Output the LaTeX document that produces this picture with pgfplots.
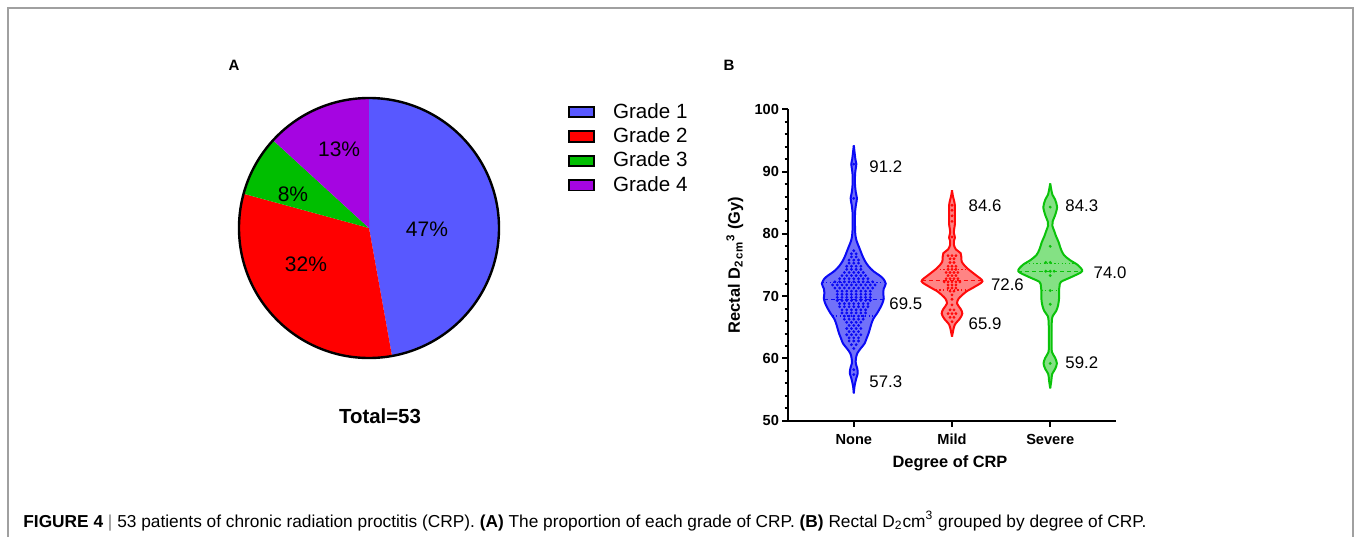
\documentclass[border=0pt]{standalone}
\usepackage{fontspec}
\setmainfont{Liberation Sans}
\usepackage{pgfplots}
\pgfplotsset{compat=1.18}
\usepackage{pgfplotstable}

\definecolor{gOne}{RGB}{88,88,255}
\definecolor{gTwo}{RGB}{255,0,0}
\definecolor{gThree}{RGB}{0,190,0}
\definecolor{gFour}{RGB}{165,5,225}
\definecolor{cNone}{RGB}{10,10,245}
\definecolor{cMild}{RGB}{255,10,10}
\definecolor{cSev}{RGB}{10,195,10}
\definecolor{frame}{RGB}{160,160,160}
\tikzset{ann/.style={anchor=west, inner sep=0pt, font=\fontsize{8.4}{9}\selectfont}}

\pgfplotstableread{
grade count
1 25
2 17
3 4
4 7
}\pietable

\pgfplotstableread{
y w
54.4 0
55.6 0.008
56.8 0.025
57.6 0.04
58.4 0.035
59.2 0.02
60.0 0.022
60.8 0.035
61.6 0.07
62.4 0.11
63.2 0.13
64.0 0.15
64.8 0.165
65.6 0.18
66.4 0.2
67.2 0.235
68.0 0.265
68.8 0.29
69.6 0.305
70.4 0.3
71.2 0.305
72.0 0.325
72.8 0.3
73.4 0.255
74.0 0.2
74.8 0.15
75.6 0.115
76.4 0.09
77.2 0.07
78.0 0.05
78.8 0.03
79.6 0.018
80.6 0.013
82.0 0.012
83.5 0.013
84.7 0.022
85.7 0.032
86.7 0.02
88.0 0.012
89.6 0.013
90.5 0.02
91.2 0.026
92.0 0.016
93.2 0.007
94.2 0
}\vNone

\pgfplotstableread{
y w
63.5 0
64.3 0.01
65.4 0.028
66.4 0.08
67.2 0.105
67.9 0.09
68.8 0.052
69.6 0.068
70.7 0.143
71.5 0.23
72.4 0.31
73.4 0.24
74.5 0.153
75.5 0.1
76.3 0.095
76.9 0.088
77.5 0.04
78.2 0.02
78.8 0.018
79.4 0.03
80.2 0.018
80.8 0.022
81.5 0.029
83.0 0.03
84.6 0.029
85.4 0.02
86.0 0.01
87.0 0
}\vMild

\pgfplotstableread{
y w
55.2 0
56.5 0.012
57.5 0.02
58.3 0.05
59.2 0.068
60.1 0.05
61.0 0.018
62.0 0.014
64.0 0.014
65.9 0.016
66.8 0.025
67.6 0.06
68.5 0.08
69.6 0.09
70.8 0.09
71.6 0.095
72.3 0.11
73.1 0.22
74.0 0.325
75.0 0.28
75.8 0.2
76.6 0.14
77.5 0.11
78.7 0.085
79.6 0.06
80.5 0.04
81.3 0.022
82.0 0.025
83.0 0.05
84.3 0.07
85.5 0.05
86.3 0.022
87.0 0.012
88.1 0
}\vSev

\begin{document}
\begin{tikzpicture}
\path[use as bounding box] (0pt,0pt) rectangle (678pt,268.5pt);
\begin{scope}[x=0.5pt,y=0.5pt]
\draw[line width=0.75pt, frame] (8,0) -- (8,529) -- (1353,529) -- (1353,0);
\node[font=\fontsize{7.5}{8}\selectfont\bfseries] at (234,471.7) {A};
\node[font=\fontsize{7.5}{8}\selectfont\bfseries] at (729,471.7) {B};
\node[font=\fontsize{10.2}{11}\selectfont\bfseries] at (380,120.3) {Total=53};
\node[anchor=west, inner sep=0pt, font=\fontsize{8.65}{10}\selectfont] at (23,16)
 {\textbf{FIGURE 4} {\color{gray}|} 53 patients of chronic radiation proctitis (CRP). \textbf{(A)} The proportion of each grade of CRP. \textbf{(B)} Rectal D\textsubscript{2}cm\textsuperscript{3} grouped by degree of CRP.};
\end{scope}

% ---------- Panel A ----------
\begin{axis}[at={(184.5pt,154.5pt)}, anchor=center, scale only axis,
  width=130pt, height=130pt, xmin=-1, xmax=1, ymin=-1, ymax=1,
  hide axis, clip=false,
  legend image code/.code={\draw[#1,draw=black,line width=0.9pt] (0pt,-2.6pt) rectangle (12.5pt,2.6pt);},
  legend style={at={(1.265,0.982)}, anchor=north west, draw=none, fill=none,
    inner sep=0pt, font=\fontsize{10.3}{12}\selectfont, row sep=3.25pt,
    nodes={inner sep=0pt},
    /tikz/every odd column/.append style={column sep=9pt}},
  legend cell align=left]
\addlegendimage{fill=gOne}
\addlegendimage{fill=gTwo}
\addlegendimage{fill=gThree}
\addlegendimage{fill=gFour}
\legend{Grade 1,Grade 2,Grade 3,Grade 4}
\pgfplotsextra{%
  \gdef\curang{90}%
  \foreach \i/\col in {0/gOne,1/gTwo,2/gThree,3/gFour}{%
    \pgfplotstablegetelem{\i}{count}\of\pietable
    \pgfmathsetmacro\slice{\pgfplotsretval/53*360}%
    \pgfmathsetmacro\nextang{\curang-\slice}%
    \fill[\col] (axis cs:0,0) -- ++(\curang:65pt) arc[start angle=\curang, end angle=\nextang, radius=65pt] -- cycle;
    \xdef\curang{\nextang}%
  }%
  \draw[line width=1.2pt] (axis cs:0,0) circle[radius=65pt];
}
\node[font=\fontsize{10.5}{12}\selectfont] at (axis cs:0.446,-0.01) {47\%};
\node[font=\fontsize{10.5}{12}\selectfont] at (axis cs:-0.485,-0.277) {32\%};
\node[font=\fontsize{10.5}{12}\selectfont] at (axis cs:-0.585,0.26) {8\%};
\node[font=\fontsize{10.5}{12}\selectfont] at (axis cs:-0.23,0.608) {13\%};
\end{axis}

% ---------- Panel B ----------
\begin{axis}[at={(394pt,58.15pt)}, anchor=south west, scale only axis,
  width=164pt, height=155.7pt,
  xmin=-0.67, xmax=2.67, ymin=50, ymax=100,
  axis x line*=bottom, axis y line*=left,
  axis line style={-, line width=1.15pt},
  xtick={0,1,2}, xticklabels={None,Mild,Severe},
  ytick={50,60,...,100}, minor y tick num=4,
  tick align=outside, major tick length=3pt, minor tick length=1.7pt,
  every tick/.style={black, line width=1pt},
  tick label style={font=\fontsize{7.3}{8}\selectfont\bfseries},
  xticklabel style={text height=5.3pt, text depth=0pt},
  yticklabel style={xshift=2pt},
  /pgf/number format/assume math mode=true,
  xlabel={Degree of CRP},
  ylabel={Rectal D\textsubscript{2\,cm}\textsuperscript{3} (Gy)},
  label style={font=\fontsize{8.2}{9}\selectfont\bfseries},
  xlabel style={at={(axis description cs:0.494,-0.136)}, anchor=center},
  ylabel style={at={(axis description cs:-0.162,0.5)}, anchor=center},
  clip=false]
% violin fills (two halves each, closed along the centre line)
\addplot[fill=cNone!58, draw=cNone!58, line width=0.4pt, smooth] table[x expr=\thisrow{w}, y=y]{\vNone} -- cycle;
\addplot[fill=cNone!58, draw=cNone!58, line width=0.4pt, smooth] table[x expr=-\thisrow{w}, y=y]{\vNone} -- cycle;
\addplot[fill=cMild!50, draw=cMild!50, line width=0.4pt, smooth] table[x expr=1+\thisrow{w}, y=y]{\vMild} -- cycle;
\addplot[fill=cMild!50, draw=cMild!50, line width=0.4pt, smooth] table[x expr=1-\thisrow{w}, y=y]{\vMild} -- cycle;
\addplot[fill=cSev!50, draw=cSev!50, line width=0.4pt, smooth] table[x expr=2+\thisrow{w}, y=y]{\vSev} -- cycle;
\addplot[fill=cSev!50, draw=cSev!50, line width=0.4pt, smooth] table[x expr=2-\thisrow{w}, y=y]{\vSev} -- cycle;

% medians and quartiles
\addplot[cNone, line width=0.6pt, dash pattern=on 2pt off 1.5pt] coordinates {(-0.305,69.5) (0.305,69.5)};
\addplot[cNone, line width=0.6pt, dash pattern=on 0.6pt off 1.2pt] coordinates {(-0.215,66.8) (0.215,66.8)};
\addplot[cNone, line width=0.6pt, dash pattern=on 0.6pt off 1.2pt] coordinates {(-0.32,72.2) (0.32,72.2)};
\addplot[cMild, line width=0.6pt, dash pattern=on 2pt off 1.5pt] coordinates {(0.69,72.5) (1.31,72.5)};
\addplot[cMild, line width=0.6pt, dash pattern=on 0.6pt off 1.2pt] coordinates {(0.835,71.0) (1.165,71.0)};
\addplot[cMild, line width=0.6pt, dash pattern=on 0.6pt off 1.2pt] coordinates {(0.84,74.3) (1.16,74.3)};
\addplot[cSev, line width=0.6pt, dash pattern=on 2pt off 1.5pt] coordinates {(1.675,74.0) (2.325,74.0)};
\addplot[cSev, line width=0.6pt, dash pattern=on 0.6pt off 1.2pt] coordinates {(1.75,75.3) (2.25,75.3)};
\addplot[cSev, line width=0.6pt, dash pattern=on 0.6pt off 1.2pt] coordinates {(1.91,70.9) (2.09,70.9)};

% dots
\addplot[only marks, mark=*, mark size=0.5pt, cNone] coordinates {
(0,57.4) (0,58.2) (0,61.6)
(-0.024,62.2) (0.024,62.2)
(-0.048,62.8) (0,62.8) (0.048,62.8)
(-0.048,63.3) (0,63.3) (0.048,63.3)
(-0.072,63.8) (-0.024,63.8) (0.024,63.8) (0.072,63.8)
(-0.048,64.3) (0,64.3) (0.048,64.3)
(-0.072,64.8) (-0.024,64.8) (0.024,64.8) (0.072,64.8)
(-0.048,65.3) (0,65.3) (0.048,65.3)
(-0.072,65.8) (-0.024,65.8) (0.024,65.8) (0.072,65.8)
(-0.096,66.3) (-0.048,66.3) (0,66.3) (0.048,66.3) (0.096,66.3)
(-0.096,66.8) (-0.048,66.8) (0,66.8) (0.048,66.8) (0.096,66.8)
(-0.12,67.3) (-0.072,67.3) (-0.024,67.3) (0.024,67.3) (0.072,67.3) (0.12,67.3)
(-0.12,67.8) (-0.072,67.8) (-0.024,67.8) (0.024,67.8) (0.072,67.8) (0.12,67.8)
(-0.144,68.3) (-0.096,68.3) (-0.048,68.3) (0,68.3) (0.048,68.3) (0.096,68.3) (0.144,68.3)
(-0.144,68.8) (-0.096,68.8) (-0.048,68.8) (0,68.8) (0.048,68.8) (0.096,68.8) (0.144,68.8)
(-0.168,69.3) (-0.12,69.3) (-0.072,69.3) (-0.024,69.3) (0.024,69.3) (0.072,69.3) (0.12,69.3) (0.168,69.3)
(-0.168,69.8) (-0.12,69.8) (-0.072,69.8) (-0.024,69.8) (0.024,69.8) (0.072,69.8) (0.12,69.8) (0.168,69.8)
(-0.168,70.3) (-0.12,70.3) (-0.072,70.3) (-0.024,70.3) (0.024,70.3) (0.072,70.3) (0.12,70.3) (0.168,70.3)
(-0.168,70.8) (-0.12,70.8) (-0.072,70.8) (-0.024,70.8) (0.024,70.8) (0.072,70.8) (0.12,70.8) (0.168,70.8)
(-0.192,71.3) (-0.144,71.3) (-0.096,71.3) (-0.048,71.3) (0,71.3) (0.048,71.3) (0.096,71.3) (0.144,71.3) (0.192,71.3)
(-0.216,71.8) (-0.168,71.8) (-0.12,71.8) (-0.072,71.8) (-0.024,71.8) (0.024,71.8) (0.072,71.8) (0.12,71.8) (0.168,71.8) (0.216,71.8)
(-0.192,72.3) (-0.144,72.3) (-0.096,72.3) (-0.048,72.3) (0,72.3) (0.048,72.3) (0.096,72.3) (0.144,72.3) (0.192,72.3)
(-0.144,72.8) (-0.096,72.8) (-0.048,72.8) (0,72.8) (0.048,72.8) (0.096,72.8) (0.144,72.8)
(-0.12,73.3) (-0.072,73.3) (-0.024,73.3) (0.024,73.3) (0.072,73.3) (0.12,73.3)
(-0.096,73.8) (-0.048,73.8) (0,73.8) (0.048,73.8) (0.096,73.8)
(-0.072,74.3) (-0.024,74.3) (0.024,74.3) (0.072,74.3)
(-0.072,74.8) (-0.024,74.8) (0.024,74.8) (0.072,74.8)
(-0.048,75.3) (0,75.3) (0.048,75.3)
(-0.048,75.8) (0,75.8) (0.048,75.8)
(-0.024,76.3) (0.024,76.3)
(-0.024,76.8) (0.024,76.8)
(0,77.3) (0,85.7) (0,91.2)
};
\addplot[only marks, mark=*, mark size=0.5pt, cMild] coordinates {
(1,65.9)
(0.98,66.6) (1.02,66.6)
(0.96,67.2) (1,67.2) (1.04,67.2)
(0.98,67.8) (1.02,67.8)
(1,68.6) (1,69.5) (1,70.2)
(0.98,70.8) (1.02,70.8)
(0.96,71.3) (1,71.3) (1.04,71.3)
(0.96,71.8) (1,71.8) (1.04,71.8)
(0.92,72.3) (0.96,72.3) (1,72.3) (1.04,72.3) (1.08,72.3)
(0.94,72.8) (0.98,72.8) (1.02,72.8) (1.06,72.8)
(0.96,73.3) (1,73.3) (1.04,73.3)
(0.94,73.8) (0.98,73.8) (1.02,73.8) (1.06,73.8)
(0.96,74.3) (1,74.3) (1.04,74.3)
(0.96,74.8) (1,74.8) (1.04,74.8)
(0.98,75.4) (1.02,75.4)
(0.98,76.0) (1.02,76.0)
(0.96,76.5) (1,76.5) (1.04,76.5)
(1,79.5) (1,82.0) (1,82.9) (1,83.8) (1,84.6)
};
\addplot[only marks, mark=*, mark size=0.5pt, cSev] coordinates {
(2,84.3) (2,78.0) (1.955,75.4) (2,75.4) (1.955,74.0) (2,74.0) (2.04,74.0)
(2,73.3) (2,70.9) (2,68.7) (2,59.2)
};

% outlines
\addplot[cNone, line width=1pt, smooth] table[x expr=\thisrow{w}, y=y]{\vNone};
\addplot[cNone, line width=1pt, smooth] table[x expr=-\thisrow{w}, y=y]{\vNone};
\addplot[cMild, line width=1pt, smooth] table[x expr=1+\thisrow{w}, y=y]{\vMild};
\addplot[cMild, line width=1pt, smooth] table[x expr=1-\thisrow{w}, y=y]{\vMild};
\addplot[cSev, line width=1pt, smooth] table[x expr=2+\thisrow{w}, y=y]{\vSev};
\addplot[cSev, line width=1pt, smooth] table[x expr=2-\thisrow{w}, y=y]{\vSev};

% value annotations
\node[ann] at (axis cs:0.155,90.8) {91.2};
\node[ann] at (axis cs:0.359,68.74) {69.5};
\node[ann] at (axis cs:0.155,56.26) {57.3};
\node[ann] at (axis cs:1.166,84.47) {84.6};
\node[ann] at (axis cs:1.394,71.9) {72.6};
\node[ann] at (axis cs:1.166,65.64) {65.9};
\node[ann] at (axis cs:2.151,84.47) {84.3};
\node[ann] at (axis cs:2.439,73.76) {74.0};
\node[ann] at (axis cs:2.151,59.31) {59.2};
\end{axis}
\end{tikzpicture}
\end{document}
